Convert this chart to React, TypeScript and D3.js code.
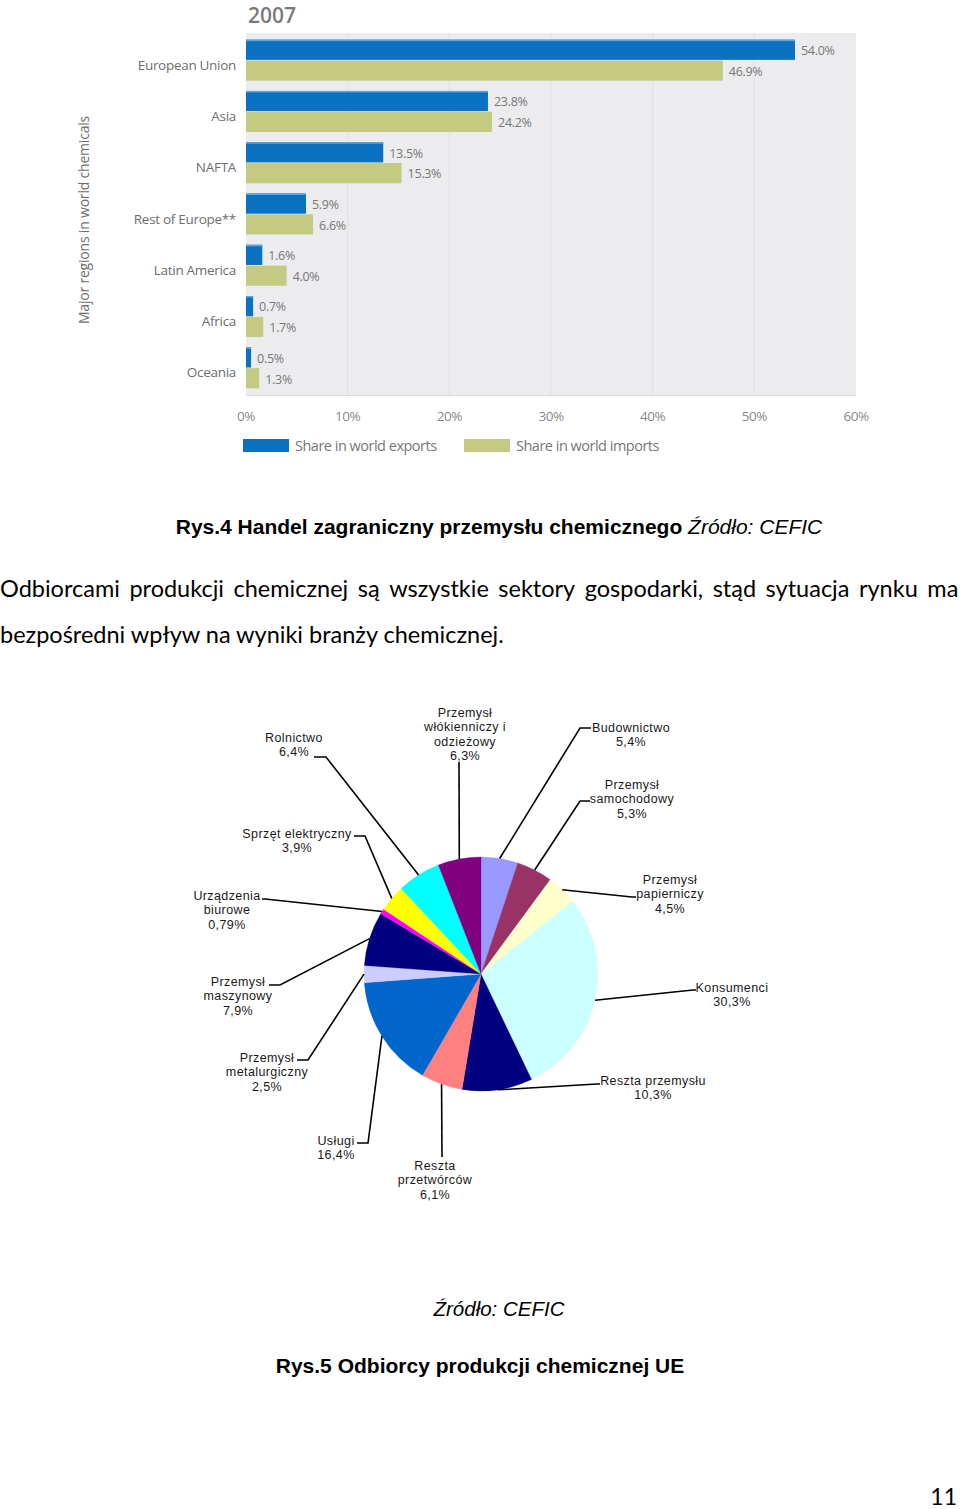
import React from 'react';
import * as d3 from 'd3';

// --- bar chart data (CEFIC 2007) ---
const regions = ['European Union', 'Asia', 'NAFTA', 'Rest of Europe**', 'Latin America', 'Africa', 'Oceania'];
const exportsShare = [54.0, 23.8, 13.5, 5.9, 1.6, 0.7, 0.5];
const importsShare = [46.9, 24.2, 15.3, 6.6, 4.0, 1.7, 1.3];
const xTicks = [0, 10, 20, 30, 40, 50, 60];
const seriesNames = ['Share in world exports', 'Share in world imports'];

// --- pie chart data ---
const sectors = [
  ['Budownictwo'],
  ['Przemysł', 'samochodowy'],
  ['Przemysł', 'papierniczy'],
  ['Konsumenci'],
  ['Reszta przemysłu'],
  ['Reszta', 'przetwórców'],
  ['Usługi'],
  ['Przemysł', 'metalurgiczny'],
  ['Przemysł', 'maszynowy'],
  ['Urządzenia', 'biurowe'],
  ['Sprzęt elektryczny'],
  ['Rolnictwo'],
  ['Przemysł', 'włókienniczy i', 'odzieżowy'],
];
const sectorValues = [5.4, 5.3, 4.5, 30.3, 10.3, 6.1, 16.4, 2.5, 7.9, 0.79, 3.9, 6.4, 6.3];
const sectorLabels = ['5,4%', '5,3%', '4,5%', '30,3%', '10,3%', '6,1%', '16,4%', '2,5%', '7,9%', '0,79%', '3,9%', '6,4%', '6,3%'];
const sectorColors = ['#9999ff', '#993366', '#ffffcc', '#ccffff', '#000080', '#ff8080', '#0066cc', '#ccccff', '#000080', '#ff00ff', '#ffff00', '#00ffff', '#800080'];

// label layout: text centre x, first line centre y, leader elbow + end
const labelLayout = [
  { tx: 631, ty: 727, pts: [[580, 728], [591, 728]] },
  { tx: 632, ty: 784, pts: [[580, 801], [590, 801]] },
  { tx: 670, ty: 879, pts: [[632, 897], [636, 897]] },
  { tx: 732, ty: 987, pts: [[693, 990], [696, 990]] },
  { tx: 653, ty: 1080, pts: [[597, 1084], [600, 1084]] },
  { tx: 435, ty: 1165, pts: [[442, 1157]] },
  { tx: 336, ty: 1140, pts: [[368, 1143], [357, 1143]] },
  { tx: 267, ty: 1057, pts: [[308, 1060], [297, 1060]] },
  { tx: 238, ty: 981, pts: [[280, 985], [269, 985]] },
  { tx: 227, ty: 895, pts: [[265, 899], [262, 899]] },
  { tx: 297, ty: 833, pts: [[365, 836], [354, 836]] },
  { tx: 294, ty: 737, pts: [[326, 757], [314, 757]] },
  { tx: 465, ty: 712, pts: [[459, 762]] },
];

const paragraph1 = 'Odbiorcami produkcji chemicznej są wszystkie sektory gospodarki, stąd sytuacja rynku ma';
const paragraph2 = 'bezpośredni wpływ na wyniki branży chemicznej.';

const chartFont = '"Open Sans", sans-serif';
const pieFont = '"Liberation Sans", Arial, sans-serif';
const bodyFont = 'Lato, "Open Sans", sans-serif';

function measure(text: string, font: string) {
  const ctx = document.createElement('canvas').getContext('2d');
  if (!ctx) return text.length * 10;
  ctx.font = font;
  return ctx.measureText(text).width;
}

const BarChart = () => {
  const x = d3.scaleLinear().domain([0, 60]).range([246, 856]);
  const y = d3.scaleBand<string>().domain(regions).range([33, 395]).paddingInner(0.2).paddingOuter(0.13);
  const sub = d3.scaleBand<string>().domain(['e', 'i']).range([0, y.bandwidth()]).paddingInner(0.03);
  const gray = '#6e6e6e';
  return (
    <g>
      <text x={248} y={23} fontFamily={chartFont} fontSize={21} fontWeight={600} fill="#7a7a7a">2007</text>
      <rect x={x(0)} y={33} width={x(60) - x(0)} height={362} fill="#ececee" />
      {xTicks.slice(1, -1).map(t => (
        <line key={t} x1={x(t)} x2={x(t)} y1={33} y2={395} stroke="#e1e1e4" strokeWidth={1} />
      ))}
      <line x1={x(0)} x2={x(60)} y1={395.5} y2={395.5} stroke="#dcdcdf" />
      {regions.map((r, i) => {
        const y0 = y(r) as number;
        return (
          <g key={r}>
            <rect x={x(0)} y={y0 + (sub('e') as number)} width={x(exportsShare[i]) - x(0)} height={sub.bandwidth()} fill="#0a72c0" />
            <rect x={x(0)} y={y0 + (sub('e') as number)} width={x(exportsShare[i]) - x(0)} height={1.5} fill="#5fa6dc" />
            <rect x={x(0)} y={y0 + (sub('i') as number)} width={x(importsShare[i]) - x(0)} height={sub.bandwidth()} fill="#c4ca82" />
            <text x={x(exportsShare[i]) + 6} y={y0 + (sub('e') as number) + sub.bandwidth() / 2 + 2} dominantBaseline="middle"
              fontFamily={chartFont} fontSize={12.5} fill="#777" letterSpacing={-0.3}>
              {exportsShare[i].toFixed(1)}%
            </text>
            <text x={x(importsShare[i]) + 6} y={y0 + (sub('i') as number) + sub.bandwidth() / 2 + 2} dominantBaseline="middle"
              fontFamily={chartFont} fontSize={12.5} fill="#777" letterSpacing={-0.3}>
              {importsShare[i].toFixed(1)}%
            </text>
            <text x={236} y={y0 + y.bandwidth() / 2 + 6} textAnchor="end" dominantBaseline="middle"
              fontFamily={chartFont} fontSize={13.5} fill={gray} letterSpacing={-0.3}>
              {r}
            </text>
          </g>
        );
      })}
      {xTicks.map(t => (
        <text key={t} x={x(t)} y={421} textAnchor="middle" fontFamily={chartFont} fontSize={13.5} fill="#8a8a8a" letterSpacing={-0.5}>
          {t}%
        </text>
      ))}
      <text transform="translate(89,220) rotate(-90)" textAnchor="middle" fontFamily={chartFont} fontSize={14} fill={gray} letterSpacing={-0.2}>
        Major regions in world chemicals
      </text>
      {seriesNames.map((s, i) => (
        <g key={s} transform={`translate(${i === 0 ? 243 : 464},439)`}>
          <rect width={46} height={13} fill={i === 0 ? '#0a72c0' : '#c4ca82'} />
          <text x={52} y={12} fontFamily={chartFont} fontSize={14.5} fill="#777" letterSpacing={-0.5}>{s}</text>
        </g>
      ))}
    </g>
  );
};

const PieChart = () => {
  const cx = 481, cy = 974, r = 117;
  const pie = d3.pie<number>().sort(null).value(d => d);
  const arcs = pie(sectorValues);
  const arc = d3.arc<d3.PieArcDatum<number>>().innerRadius(0).outerRadius(r);
  const line = d3.line();
  return (
    <g>
      <g transform={`translate(${cx},${cy})`}>
        {arcs.map((a, i) => (
          <path key={i} d={arc(a) || ''} fill={sectorColors[i]} stroke={sectorColors[i]} strokeWidth={0.3} />
        ))}
      </g>
      {arcs.map((a, i) => {
        const mid = (a.startAngle + a.endAngle) / 2;
        const start: [number, number] = [cx + r * Math.sin(mid), cy - r * Math.cos(mid)];
        const L = labelLayout[i];
        const pts = [start, ...L.pts] as [number, number][];
        const lines = [...sectors[i], sectorLabels[i]];
        return (
          <g key={i}>
            <path d={line(pts) || ''} fill="none" stroke="#000" strokeWidth={1.6} />
            {lines.map((t, j) => (
              <text key={j} x={L.tx} y={L.ty + j * 14.5 + 4.5} textAnchor="middle" fontFamily={pieFont} fontSize={12.5}
                letterSpacing={0.4} fill="#1a1a1a">
                {t}
              </text>
            ))}
          </g>
        );
      })}
    </g>
  );
};

const JustifiedLine = ({ text, y, width, font, size }: { text: string; y: number; width: number; font: string; size: number }) => {
  const words = text.split(' ');
  const total = measure(text.replace(/ /g, ''), `${size}px ${font}`);
  const gap = (width - total) / (words.length - 1);
  let cur = 0;
  return (
    <text y={y} fontFamily={font} fontSize={size} fill="#000">
      {words.map((w, i) => {
        const xPos = cur;
        cur += measure(w, `${size}px ${font}`) + gap;
        return <tspan key={i} x={xPos}>{w}</tspan>;
      })}
    </text>
  );
};

export default function App() {
  return (
    <svg width={960} height={1509} style={{ position: 'absolute', left: 0, top: 0, background: '#fff' }}>
      <BarChart />
      <text x={499} y={534} textAnchor="middle" fontFamily={pieFont} fontSize={21} fill="#000">
        <tspan fontWeight="bold">Rys.4 Handel zagraniczny przemysłu chemicznego </tspan>
        <tspan fontStyle="italic">Źródło: CEFIC</tspan>
      </text>
      <JustifiedLine text={paragraph1} y={597} width={958} font={bodyFont} size={23.5} />
      <text x={0} y={643} fontFamily={bodyFont} fontSize={23.5} fill="#000">{paragraph2}</text>
      <PieChart />
      <text x={499} y={1316} textAnchor="middle" fontFamily={pieFont} fontStyle="italic" fontSize={20.5} fill="#000">Źródło: CEFIC</text>
      <text x={480} y={1373} textAnchor="middle" fontFamily={pieFont} fontWeight="bold" fontSize={21} fill="#000">Rys.5 Odbiorcy produkcji chemicznej UE</text>
      <text x={957} y={1505} textAnchor="end" fontFamily={bodyFont} fontSize={23} fill="#000">11</text>
    </svg>
  );
}
